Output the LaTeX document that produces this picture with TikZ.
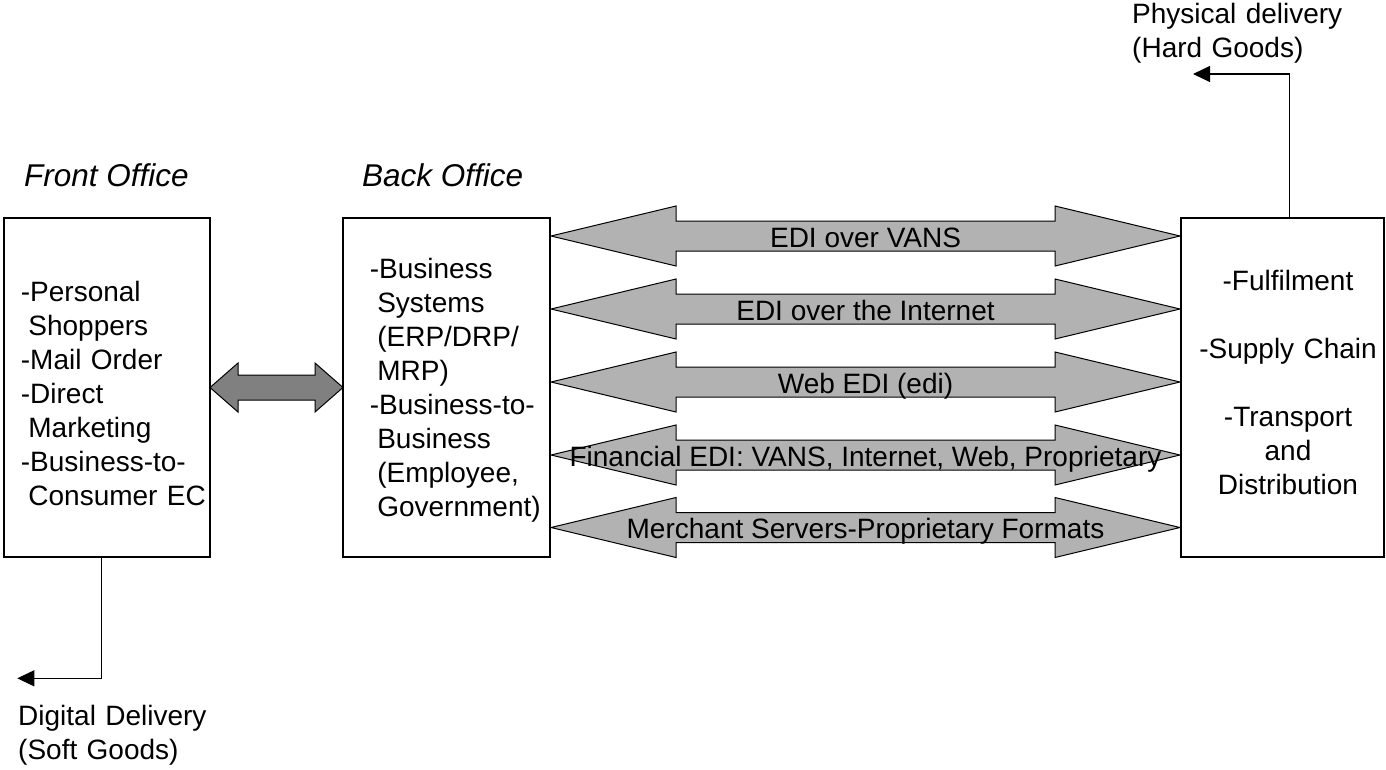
\documentclass[tikz,border=0pt]{standalone}
\usepackage{fontspec}
\setmainfont{Liberation Sans}
\usetikzlibrary{arrows.meta,calc}
\newcommand{\mydblarrow}[7]{%
  \draw[arrowshape, fill=#7] (#1,#3) -- ({#1+#4},{#3-#5}) -- ({#1+#4},{#3-#6})
    -- ({#2-#4},{#3-#6}) -- ({#2-#4},{#3-#5}) -- (#2,#3) -- ({#2-#4},{#3+#5})
    -- ({#2-#4},{#3+#6}) -- ({#1+#4},{#3+#6}) -- ({#1+#4},{#3+#5}) -- cycle;}
\begin{document}
\begin{tikzpicture}[x=1pt,y=-1pt,
  box/.style={draw, line width=1.2pt, minimum width=#1, minimum height=339pt, inner sep=0pt},
  lbl/.style={font=\fontsize{28}{34}\selectfont, inner sep=0pt},
  head/.style={font=\fontsize{31.5}{36}\selectfont\itshape, inner sep=0pt, anchor=base west},
  arrowshape/.style={draw, line width=1pt, line join=miter},
  conn/.style={line width=1.2pt, -{Triangle[length=17pt,width=16pt]}}
]
\useasboundingbox (0,0) rectangle (1386,769);

% boxes
\node[box=206pt] (fo) at (107,387.5) {};
\node[box=207pt] (bo) at (446.5,387.5) {};
\node[box=203pt] (rb) at (1282.5,387.5) {};

% headings
\node[head] (fol) at (24,186) {Front Office};
\node[head] (bol) at (362,186) {Back Office};

% small double arrow between front and back office
\mydblarrow{210}{343}{387.5}{28}{24.5}{12.5}{black!50}

% big double arrows
\mydblarrow{551}{1180}{236}{125}{30}{15}{black!30}
\mydblarrow{551}{1180}{309}{125}{30}{15}{black!30}
\mydblarrow{551}{1180}{382}{125}{30}{15}{black!30}
\mydblarrow{551}{1180}{455}{125}{30}{15}{black!30}
\mydblarrow{551}{1180}{527.5}{125}{30}{15}{black!30}

% arrow labels
\node[lbl, anchor=base] (l1) at (865.5,247) {EDI over VANS};
\node[lbl, anchor=base] (l2) at (865.5,320) {EDI over the Internet};
\node[lbl, anchor=base] (l3) at (865.5,393) {Web EDI (edi)};
\node[lbl, anchor=base] (l4) at (865.5,466) {Financial EDI: VANS, Internet, Web, Proprietary};
\node[lbl, anchor=base] (l5) at (865.5,538.5) {Merchant Servers-Proprietary Formats};

% box texts
\node[lbl, anchor=base west, text width=200pt, align=left] (fotext) at (20.7,301.3)
  {-Personal\\\hspace*{7.5pt}Shoppers\\-Mail Order\\-Direct\\\hspace*{7.5pt}Marketing\\-Business-to-\\\hspace*{7.5pt}Consumer EC};
\node[lbl, anchor=base west, text width=200pt, align=left] (botext) at (369.6,278)
  {-Business\\\hspace*{7.5pt}Systems\\\hspace*{7.5pt}(ERP/DRP/\\\hspace*{7.5pt}MRP)\\-Business-to-\\\hspace*{7.5pt}Business\\\hspace*{7.5pt}(Employee,\\\hspace*{7.5pt}Government)};
\node[lbl, anchor=base, text width=200pt, align=center] (rbtext) at (1288,290)
  {-Fulfilment\\[34pt]-Supply Chain\\[34pt]-Transport\\and\\Distribution};

% delivery connectors
\coordinate (pdtip) at (1193,74);
\draw[conn] ([xshift=7pt]rb.north) |- (pdtip);
\coordinate (ddtip) at (17.3,678.3);
\draw[conn] ([xshift=-5.3pt]fo.south) |- (ddtip);

\node[lbl, anchor=base west, text width=230pt, align=left] (pd) at (1132,23) {Physical delivery\\(Hard Goods)};
\node[lbl, anchor=base west, text width=230pt, align=left] (dd) at (18,725) {Digital Delivery\\(Soft Goods)};
\end{tikzpicture}
\end{document}
